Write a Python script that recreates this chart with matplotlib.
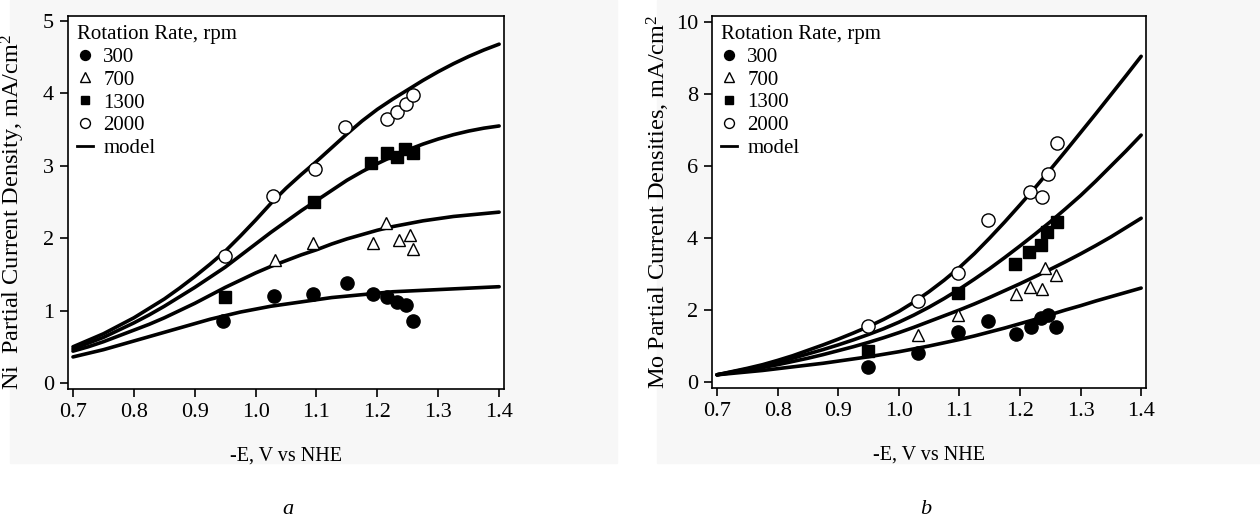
import matplotlib
matplotlib.use("Agg")
import matplotlib.pyplot as plt
from matplotlib.lines import Line2D
from matplotlib.patches import Rectangle

plt.rcParams["font.family"] = ["Liberation Serif", "DejaVu Serif"]
plt.rcParams["mathtext.fontset"] = "custom"
plt.rcParams["mathtext.rm"] = "Liberation Serif"
plt.rcParams["mathtext.default"] = "regular"

# ---- measured points: Ni partial current density (mA/cm2) ----
ni_x_300 = [0.947, 1.030, 1.095, 1.150, 1.192, 1.216, 1.232, 1.247, 1.259]
ni_y_300 = [0.86, 1.20, 1.23, 1.38, 1.23, 1.19, 1.12, 1.08, 0.86]
ni_x_700 = [1.032, 1.095, 1.192, 1.214, 1.235, 1.254, 1.259]
ni_y_700 = [1.70, 1.94, 1.94, 2.21, 1.97, 2.05, 1.85]
ni_x_1300 = [0.950, 1.096, 1.189, 1.216, 1.233, 1.246, 1.258]
ni_y_1300 = [1.19, 2.50, 3.04, 3.18, 3.12, 3.23, 3.18]
ni_x_2000 = [0.950, 1.028, 1.098, 1.146, 1.216, 1.233, 1.247, 1.258]
ni_y_2000 = [1.76, 2.58, 2.95, 3.53, 3.65, 3.74, 3.85, 3.98]

# ---- measured points: Mo partial current densities (mA/cm2) ----
mo_x_300 = [0.949, 1.031, 1.098, 1.148, 1.193, 1.218, 1.234, 1.247, 1.260]
mo_y_300 = [0.43, 0.80, 1.40, 1.70, 1.33, 1.52, 1.77, 1.85, 1.52]
mo_x_700 = [1.032, 1.098, 1.193, 1.217, 1.237, 1.241, 1.260]
mo_y_700 = [1.31, 1.87, 2.45, 2.65, 2.58, 3.16, 2.98]
mo_x_1300 = [0.949, 1.098, 1.192, 1.215, 1.234, 1.245, 1.261]
mo_y_1300 = [0.87, 2.47, 3.28, 3.62, 3.81, 4.16, 4.45]
mo_x_2000 = [0.949, 1.031, 1.098, 1.148, 1.216, 1.237, 1.246, 1.261]
mo_y_2000 = [1.56, 2.24, 3.02, 4.50, 5.27, 5.15, 5.79, 6.63]

# ---- model curves, potentials 0.700 ... 1.400 V in 0.025 V steps ----
model_x = [0.700, 0.725, 0.750, 0.775, 0.800, 0.825, 0.850, 0.875,
           0.900, 0.925, 0.950, 0.975, 1.000, 1.025, 1.050, 1.075,
           1.100, 1.125, 1.150, 1.175, 1.200, 1.225, 1.250, 1.275,
           1.300, 1.325, 1.350, 1.375, 1.400]
ni_model_300 = [0.36, 0.41, 0.46, 0.52, 0.58, 0.64, 0.70, 0.76,
                0.82, 0.88, 0.93, 0.98, 1.02, 1.06, 1.09, 1.12,
                1.15, 1.18, 1.20, 1.22, 1.24, 1.26, 1.27, 1.28,
                1.29, 1.30, 1.31, 1.32, 1.33]
ni_model_700 = [0.44, 0.50, 0.57, 0.65, 0.73, 0.81, 0.90, 1.00,
                1.10, 1.21, 1.32, 1.42, 1.52, 1.61, 1.69, 1.77,
                1.84, 1.92, 1.99, 2.05, 2.11, 2.16, 2.20, 2.24,
                2.27, 2.30, 2.32, 2.34, 2.36]
ni_model_1300 = [0.47, 0.55, 0.63, 0.73, 0.83, 0.94, 1.06, 1.19,
                 1.32, 1.46, 1.60, 1.76, 1.92, 2.08, 2.23, 2.38,
                 2.52, 2.66, 2.80, 2.92, 3.03, 3.13, 3.22, 3.30,
                 3.37, 3.43, 3.48, 3.52, 3.55]
ni_model_2000 = [0.50, 0.59, 0.68, 0.79, 0.90, 1.03, 1.16, 1.31,
                 1.47, 1.64, 1.82, 2.03, 2.25, 2.48, 2.69, 2.88,
                 3.06, 3.25, 3.44, 3.62, 3.78, 3.92, 4.05, 4.18,
                 4.30, 4.41, 4.51, 4.60, 4.68]
mo_model_300 = [0.20, 0.24, 0.28, 0.32, 0.37, 0.42, 0.47, 0.52,
                0.58, 0.64, 0.70, 0.77, 0.84, 0.92, 1.00, 1.09,
                1.18, 1.28, 1.39, 1.50, 1.62, 1.74, 1.87, 2.00,
                2.12, 2.25, 2.37, 2.49, 2.61]
mo_model_700 = [0.20, 0.26, 0.33, 0.40, 0.48, 0.57, 0.66, 0.76,
                0.87, 0.98, 1.10, 1.23, 1.37, 1.52, 1.68, 1.84,
                2.00, 2.17, 2.35, 2.54, 2.73, 2.93, 3.13, 3.34,
                3.56, 3.79, 4.03, 4.29, 4.55]
mo_model_1300 = [0.20, 0.28, 0.36, 0.45, 0.55, 0.66, 0.78, 0.90,
                 1.03, 1.17, 1.32, 1.48, 1.66, 1.86, 2.08, 2.32,
                 2.58, 2.86, 3.15, 3.46, 3.78, 4.11, 4.45, 4.81,
                 5.18, 5.58, 6.00, 6.42, 6.86]
mo_model_2000 = [0.20, 0.29, 0.38, 0.48, 0.60, 0.73, 0.88, 1.03,
                 1.19, 1.36, 1.54, 1.74, 1.96, 2.22, 2.51, 2.83,
                 3.18, 3.57, 4.00, 4.45, 4.92, 5.40, 5.90, 6.41,
                 6.93, 7.45, 7.98, 8.51, 9.05]

rates = ["300", "700", "1300", "2000"]
x_ticks = [0.7, 0.8, 0.9, 1.0, 1.1, 1.2, 1.3, 1.4]
x_tick_labels = ["0.7", "0.8", "0.9", "1.0", "1.1", "1.2", "1.3", "1.4"]
ni_y_ticks = [0, 1, 2, 3, 4, 5]
mo_y_ticks = [0, 2, 4, 6, 8, 10]

styles = {
    "300": dict(marker="o", mfc="black", mec="black", ms=9.5),
    "700": dict(marker="^", mfc="white", mec="black", ms=9, mew=1.0),
    "1300": dict(marker="s", mfc="black", mec="black", ms=8.5),
    "2000": dict(marker="o", mfc="white", mec="black", ms=9.5, mew=1.0),
}

fig = plt.figure(figsize=(12.6, 5.26), dpi=100)

# faint grey panel backgrounds, kept behind both axes
W, H = 1260.0, 526.0
fig.patches.append(Rectangle((10 / W, 1 - 463 / H), (617 - 10) / W, 463 / H,
                             transform=fig.transFigure, color="#f7f7f7",
                             zorder=-10))
fig.patches.append(Rectangle((657 / W, 1 - 463 / H), (W - 657) / W, 463 / H,
                             transform=fig.transFigure, color="#f7f7f7",
                             zorder=-10))

ax_a = fig.add_axes([68 / W, 1 - 389 / H, 436 / W, 373 / H])
ax_b = fig.add_axes([712 / W, 1 - 388 / H, 434 / W, 372 / H])


def draw_panel(ax, pts, models, ylim, yticks, ylabel, ylabel_xy):
    ax.set_facecolor("white")
    for rate in rates:
        xs, ys = pts[rate]
        ax.plot(xs, ys, ls="none", zorder=3, **styles[rate])
    for rate in rates:
        ax.plot(model_x, models[rate], color="black", lw=2.6,
                solid_capstyle="round", solid_joinstyle="round", zorder=2)
    ax.set_xlim(0.6918, 1.408)
    ax.set_ylim(*ylim)
    ax.set_xticks(x_ticks)
    ax.set_xticklabels(x_tick_labels)
    ax.set_yticks(yticks)
    ax.tick_params(direction="out", length=6, width=1.2, labelsize=16,
                   pad=4, top=False, right=False)
    for s in ax.spines.values():
        s.set_linewidth(1.2)
    ax.set_xlabel("-E, V vs NHE", fontsize=14.5, labelpad=18)
    ax.set_ylabel(ylabel, fontsize=17.5)
    ax.yaxis.set_label_coords(*ylabel_xy)

    handles = []
    for rate in rates:
        st = dict(styles[rate])
        st["ms"] = st["ms"] * 0.75
        handles.append(Line2D([], [], ls="none", **st))
    handles.append(Line2D([], [], color="black", lw=2.0))
    ax.legend(handles, rates + ["model"], title="Rotation Rate, rpm",
              loc="upper left", frameon=False, fontsize=15,
              title_fontsize=15, handlelength=0.75, handletextpad=0.5,
              labelspacing=0.15, borderaxespad=0.25, borderpad=0.2,
              alignment="left")


draw_panel(ax_a,
           {"300": (ni_x_300, ni_y_300), "700": (ni_x_700, ni_y_700),
            "1300": (ni_x_1300, ni_y_1300), "2000": (ni_x_2000, ni_y_2000)},
           {"300": ni_model_300, "700": ni_model_700,
            "1300": ni_model_1300, "2000": ni_model_2000},
           (-0.083, 5.069), ni_y_ticks,
           "Ni  Partial Current Density, mA/cm$^2$", (-0.094, 0.475))
draw_panel(ax_b,
           {"300": (mo_x_300, mo_y_300), "700": (mo_x_700, mo_y_700),
            "1300": (mo_x_1300, mo_y_1300), "2000": (mo_x_2000, mo_y_2000)},
           {"300": mo_model_300, "700": mo_model_700,
            "1300": mo_model_1300, "2000": mo_model_2000},
           (-0.167, 10.17), mo_y_ticks,
           "Mo Partial Current Densities, mA/cm$^2$", (-0.092, 0.5))

fig.text(288 / W, 1 - 510 / H, "a", fontsize=16, style="italic",
         ha="center", va="center")
fig.text(926 / W, 1 - 510 / H, "b", fontsize=16, style="italic",
         ha="center", va="center")

fig.savefig("out.png", dpi=100)
